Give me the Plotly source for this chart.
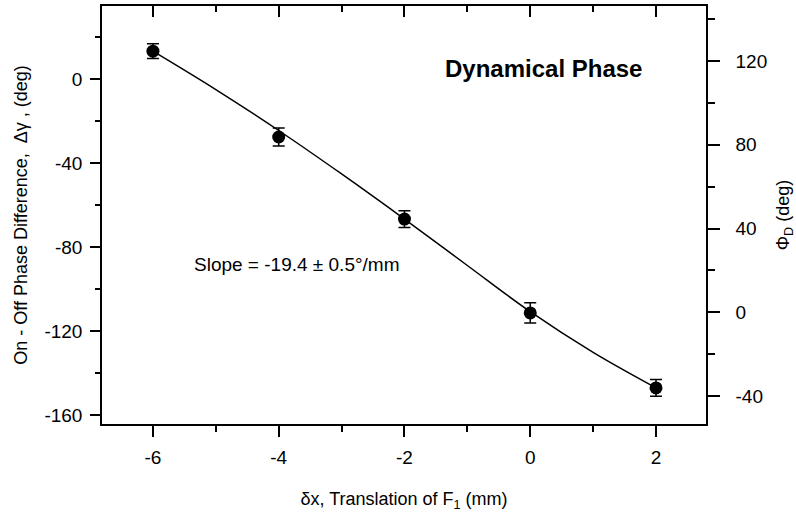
import plotly.graph_objects as go

# Measured on-off phase difference vs. translation of F1
dx_mm = [-6, -4, -2, 0, 2]
dgamma_deg = [13.3, -27.6, -66.7, -111.4, -147.1]
dgamma_err = [3.5, 4.3, 4.0, 4.8, 4.0]

# Smooth fitted curve sampled along x
fit_x = [-6, -5, -4, -3, -2, -1, 0, 1, 2]
fit_y = [13.3, -5.0, -24.5, -45.2, -66.7, -88.8, -110.8, -130.2, -147.1]

# Tick labels
x_ticks = [-6, -4, -2, 0, 2]
x_ticklabels = ["-6", "-4", "-2", "0", "2"]
left_ticks = [0, -40, -80, -120, -160]
left_ticklabels = ["0", "-40", "-80", "-120", "-160"]
right_ticks = [120, 80, 40, 0, -40]
right_ticklabels = ["120", "80", "40", "0", "-40"]

FONT = "Arial, Liberation Sans, Helvetica, sans-serif"
X_RANGE = [-6.81, 2.795]
Y_RANGE = [-164.3, 34.8]
Y2_RANGE = [-53.4, 146.3]

fig = go.Figure()

fig.add_trace(go.Scatter(
    x=fit_x, y=fit_y, mode="lines",
    line=dict(color="black", width=1.5, shape="spline", smoothing=1.0),
    hoverinfo="skip", showlegend=False,
))

fig.add_trace(go.Scatter(
    x=dx_mm, y=dgamma_deg, mode="markers",
    marker=dict(color="black", size=13, symbol="circle"),
    error_y=dict(type="data", array=dgamma_err, visible=True,
                 color="black", thickness=1.5, width=6),
    showlegend=False,
))

# invisible carriers for the top x axis and right y axis
fig.add_trace(go.Scatter(x=[None], y=[None], xaxis="x2", yaxis="y",
                         showlegend=False, hoverinfo="skip"))
fig.add_trace(go.Scatter(x=[None], y=[None], xaxis="x", yaxis="y2",
                         showlegend=False, hoverinfo="skip"))

tick_font = dict(family=FONT, size=19, color="black")

fig.update_layout(
    width=796, height=512,
    margin=dict(l=102, r=90, t=6, b=88),
    paper_bgcolor="white", plot_bgcolor="white",
    font=dict(family=FONT, color="black"),
    xaxis=dict(
        range=X_RANGE, showgrid=False, zeroline=False, automargin=False,
        showline=True, linecolor="black", linewidth=1.5,
        tickmode="array", tickvals=x_ticks, ticktext=x_ticklabels,
        ticks="outside", ticklen=11, tickwidth=1.5, tickcolor="black",
        minor=dict(dtick=1, tick0=0, ticks="outside", ticklen=6,
                   tickwidth=1.5, tickcolor="black", showgrid=False),
        tickfont=tick_font, ticklabelstandoff=4,
        title=dict(text="δx, Translation of F<sub>1</sub> (mm)",
                   font=dict(family=FONT, size=18), standoff=26),
    ),
    xaxis2=dict(
        range=X_RANGE, overlaying="x", side="top", showgrid=False,
        zeroline=False, showline=True, linecolor="black", linewidth=1.5,
        automargin=False,
        tickmode="array", tickvals=x_ticks, showticklabels=False,
        ticks="inside", ticklen=11, tickwidth=1.5, tickcolor="black",
        minor=dict(dtick=1, tick0=0, ticks="inside", ticklen=6,
                   tickwidth=1.5, tickcolor="black", showgrid=False),
    ),
    yaxis=dict(
        range=Y_RANGE, showgrid=False, zeroline=False, automargin=False,
        showline=True, linecolor="black", linewidth=1.5,
        tickmode="array", tickvals=left_ticks, ticktext=left_ticklabels,
        ticks="outside", ticklen=10, tickwidth=1.5, tickcolor="black",
        minor=dict(dtick=20, tick0=0, ticks="outside", ticklen=5,
                   tickwidth=1.5, tickcolor="black", showgrid=False),
        tickfont=tick_font, ticklabelstandoff=4,
        title=dict(text="On - Off Phase Difference,  Δγ , (deg)",
                   font=dict(family=FONT, size=18), standoff=12),
    ),
    yaxis2=dict(
        range=Y2_RANGE, overlaying="y", side="right", showgrid=False,
        zeroline=False, showline=True, linecolor="black", linewidth=1.5,
        automargin=False,
        tickmode="array", tickvals=right_ticks, ticktext=right_ticklabels,
        ticks="outside", ticklen=12, tickwidth=1.5, tickcolor="black",
        minor=dict(dtick=20, tick0=0, ticks="outside", ticklen=7,
                   tickwidth=1.5, tickcolor="black", showgrid=False),
        tickfont=tick_font, ticklabelstandoff=12,
        title=dict(text="Φ<sub>D</sub> (deg)",
                   font=dict(family=FONT, size=18), standoff=16),
    ),
    annotations=[
        dict(x=-1.388, y=5.2, xref="x", yref="y", text="<b>Dynamical Phase</b>",
             showarrow=False, xanchor="left", yanchor="middle",
             font=dict(family=FONT, size=24, color="black")),
        dict(x=-5.38, y=-88.1, xref="x", yref="y",
             text="Slope = -19.4 ± 0.5°/mm",
             showarrow=False, xanchor="left", yanchor="middle",
             font=dict(family=FONT, size=19, color="black")),
    ],
)

fig.write_html("out.html")
